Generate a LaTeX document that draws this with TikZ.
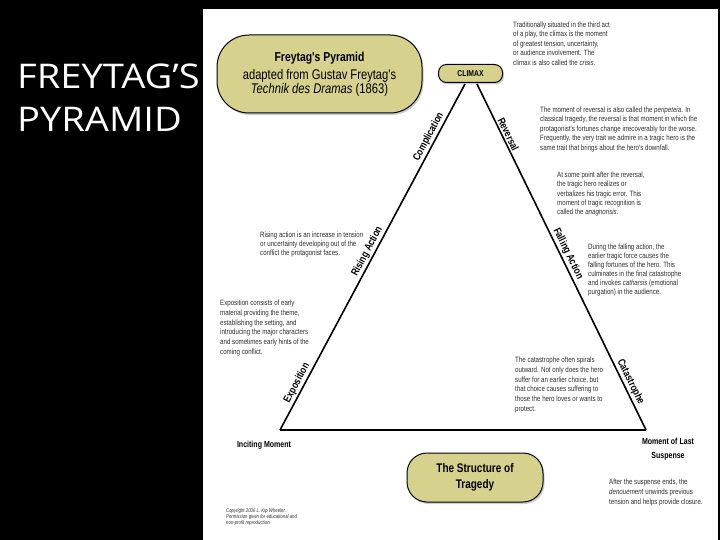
\documentclass[tikz,border=0pt]{standalone}
\usepackage{fontspec}
\setmainfont{Liberation Sans}
\newfontfamily\titlefont[FakeStretch=1.12]{Open Sans}
\newfontfamily\narrowfont[FakeStretch=0.9]{Liberation Sans}
\newfontfamily\condfont[FakeStretch=0.8]{Liberation Sans}
\usetikzlibrary{shadows}
\definecolor{khaki}{HTML}{D6D28E}
\definecolor{txtgray}{HTML}{2E2E2E}
\tikzset{
  pillbox/.style={draw=black, line width=1pt, fill=khaki, drop shadow={opacity=0.4, shadow xshift=1.5pt, shadow yshift=-2pt}, align=center, inner sep=2pt},
  desc/.style={font=\condfont\fontsize{7.7}{9.5}\selectfont, text=txtgray, align=left, anchor=north west, inner sep=0pt},
  lbl/.style={font=\condfont\bfseries\fontsize{8.8}{14}\selectfont, align=center, inner sep=0pt},
  linelbl/.style={font=\condfont\bfseries\fontsize{10.5}{11}\selectfont, sloped, above=0.5pt, inner sep=1pt},
  triline/.style={line width=1.6pt, line join=miter},
  bigtitle/.style={font=\titlefont\fontsize{34}{38}\selectfont, text=white, anchor=west, inner sep=0pt}
}
\begin{document}
\begin{tikzpicture}[x=1pt,y=-1pt]
\useasboundingbox (0,0) rectangle (720,540);
\fill[black] (0,0) rectangle (720,540);
\fill[white] (203,9) rectangle (718,540);

% left title
\node[bigtitle] (t1) at (17,76) {FREYTAG’S};
\node[bigtitle] (t2) at (17,119) {PYRAMID};

% pills
\node[pillbox, minimum width=205pt, minimum height=78pt, rounded corners=32pt] (title) at (319.5,74)
  {{\condfont\bfseries\fontsize{13}{16}\selectfont Freytag's Pyramid}\\[4pt]
   {\condfont\fontsize{14}{19}\selectfont adapted from Gustav Freytag's}\\
   {\condfont\fontsize{14}{19}\selectfont \textit{Technik des Dramas} (1863)}};
\node[pillbox, minimum width=64pt, minimum height=18pt, rounded corners=8pt, font=\condfont\bfseries\fontsize{8.5}{9}\selectfont] (climax) at (470.5,73.5) {CLIMAX};
\node[pillbox, minimum width=136pt, minimum height=49pt, rounded corners=20pt, font=\condfont\bfseries\fontsize{12.5}{16.5}\selectfont] (structure) at (475,477.5) {The Structure of\\Tragedy};

% triangle
\coordinate (apexL) at (465,84);
\coordinate (apexR) at (477,84);
\coordinate (incite) at (280,430);
\coordinate (lost) at (646,430);
\draw[triline] (incite) -- (apexL)
  node[linelbl, pos=0.126] {Exposition}
  node[linelbl, pos=0.506] {Rising Action}
  node[linelbl, pos=0.838] {Complication};
\draw[triline] (apexR) -- (lost)
  node[linelbl, pos=0.153] {Reversal}
  node[linelbl, pos=0.50] {Falling Action}
  node[linelbl, pos=0.87] {Catastrophe};
\draw[line width=2.2pt] (incite) -- (lost);

% corner labels
\node[lbl] (incm) at (264,445) {Inciting Moment};
\node[lbl] (lastsus) at (668,449) {Moment of Last\\Suspense};

% description texts
\node[desc] (dclimax) at (513,21.7) {Traditionally situated in the third act\\ of a play, the climax is the moment\\ of greatest tension, uncertainty,\\ or audience involvement. The\\ climax is also called the \textit{crisis}.};
\node[desc] (drev) at (540,106.7) {The moment of reversal is also called the \textit{peripeteia}. In\\ classical tragedy, the reversal is that moment in which the\\ protagonist's fortunes change irrecoverably for the worse.\\ Frequently, the very trait we admire in a tragic hero is the\\ same trait that brings about the hero's downfall.};
\node[desc, font=\condfont\fontsize{7.7}{9.3}\selectfont] (dana) at (557,171.7) {At some point after the reversal,\\ the tragic hero realizes or\\ verbalizes his tragic error. This\\ moment of tragic recognition is\\ called the \textit{anagnorisis}.};
\node[desc, font=\condfont\fontsize{7.7}{9.1}\selectfont] (dfall) at (588,243.7) {During the falling action, the\\ earlier tragic force causes the\\ falling fortunes of the hero. This\\ culminates in the final catastrophe\\ and invokes \textit{catharsis} (emotional\\ purgation) in the audience.};
\node[desc, font=\condfont\fontsize{7.7}{9.1}\selectfont] (drise) at (260,231.7) {Rising action is an increase in tension\\ or uncertainty developing out of the\\ conflict the protagonist faces.};
\node[desc, font=\condfont\fontsize{7.7}{9.8}\selectfont] (dexpo) at (220,299.7) {Exposition consists of early\\ material providing the theme,\\ establishing the setting, and\\ introducing the major characters\\ and sometimes early hints of the\\ coming conflict.};
\node[desc, font=\condfont\fontsize{7.7}{9.8}\selectfont] (dcat) at (515,356.7) {The catastrophe often spirals\\ outward. Not only does the hero\\ suffer for an earlier choice, but\\ that choice causes suffering to\\ those the hero loves or wants to\\ protect.};
\node[desc, font=\condfont\fontsize{7.7}{10}\selectfont] (dden) at (609,478.7) {After the suspense ends, the\\ \textit{denouement} unwinds previous\\ tension and helps provide closure.};
\node[desc, font=\condfont\itshape\fontsize{5.4}{5.7}\selectfont] (copy) at (226,508.5) {Copyright 2006 L. Kip Wheeler.\\ Permission given for educational and\\ non-profit reproduction.};
\end{tikzpicture}
\end{document}
